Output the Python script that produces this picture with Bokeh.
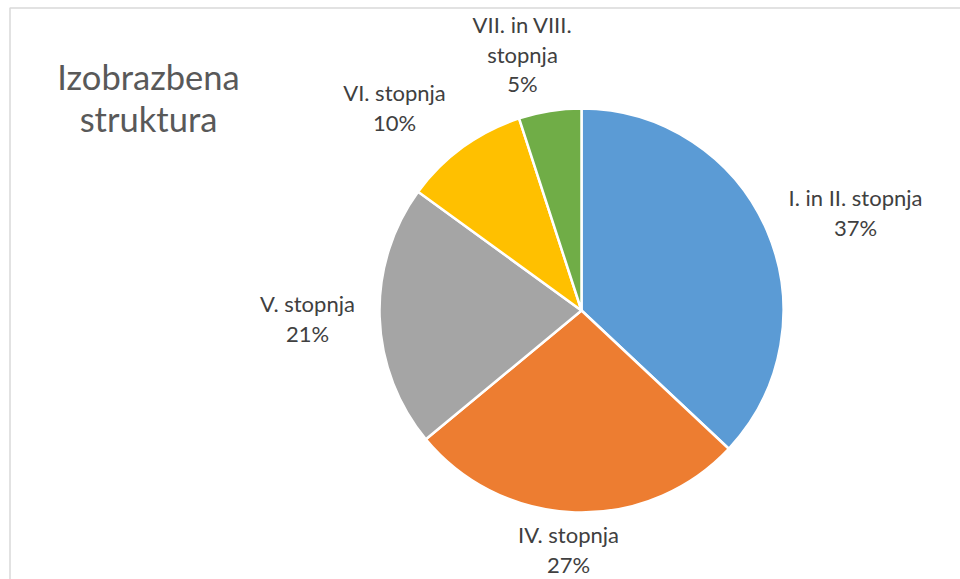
import math
from bokeh.plotting import figure
from bokeh.models import ColumnDataSource, Range1d
from bokeh.core.properties import value
from bokeh.embed import file_html
from bokeh.resources import INLINE

# ---- data ----
categories = ["I. in II. stopnja", "IV. stopnja", "V. stopnja", "VI. stopnja", "VII. in VIII. stopnja"]
shares = [37, 27, 21, 10, 5]
label_lines = [["I. in II. stopnja"], ["IV. stopnja"], ["V. stopnja"], ["VI. stopnja"], ["VII. in VIII.", "stopnja"]]
colors = ["#5B9BD5", "#ED7D31", "#A5A5A5", "#FFC000", "#70AD47"]
title_lines = ["Izobrazbena", "struktura"]

# ---- layout (picture pixel coordinates) ----
W, H = 960, 579
def dx(px):
    return px
def dy(py):
    return H - py

TXT_SHIFT = 11  # compensation so that glyph baselines land where wanted
cx, cy, R = dx(581), dy(310), 202
label_anchor = [(855, 208), (568, 545), (307, 314), (394, 103), (522, 35)]  # first baseline
line_gap = 29.5
title_baselines = [89, 131]

p = figure(width=W, height=H, output_backend="svg", toolbar_location=None,
           x_range=Range1d(0, W), y_range=Range1d(0, H), min_border=0,
           background_fill_color="white", border_fill_color="white")
p.axis.visible = False
p.xgrid.visible = False
p.ygrid.visible = False
p.outline_line_color = None

# chart-area border (left and top edges; the rest lies outside the picture)
p.line(x=[dx(9.5), dx(9.5), dx(W + 5)], y=[dy(H + 5), dy(7.5), dy(7.5)],
       line_color="#d9d9d9", line_width=1.5)

total = sum(shares)
starts, ends = [], []
cum = 0.0
for s in shares:
    c0 = cum / total
    cum += s
    c1 = cum / total
    starts.append(math.pi / 2 - 2 * math.pi * c1)
    ends.append(math.pi / 2 - 2 * math.pi * c0)

src = ColumnDataSource(dict(x=[cx] * len(shares), y=[cy] * len(shares), start=starts, end=ends,
                            color=colors, cat=categories))
p.wedge(x="x", y="y", radius=R, start_angle="start", end_angle="end", direction="anticlock",
        fill_color="color", line_color="white", line_width=2.5, source=src)

# data labels
tx, ty, tt = [], [], []
for i, lines in enumerate(label_lines):
    ax, ay = label_anchor[i]
    all_lines = lines + ["%d%%" % shares[i]]
    for j, ln in enumerate(all_lines):
        tx.append(dx(ax))
        ty.append(dy(ay + j * line_gap - TXT_SHIFT))
        tt.append(ln)
p.text(x=tx, y=ty, text=tt, text_align="center", text_baseline="alphabetic",
       text_font=value("Lato"), text_font_size="22px", text_color="#404040")

# title
p.text(x=[dx(148), dx(148)], y=[dy(b - TXT_SHIFT - 2) for b in title_baselines], text=title_lines,
       text_align="center", text_baseline="alphabetic", text_font=value("Lato"),
       text_font_size="34.5px", text_color="#595959")

open("out.html", "w").write(file_html(p, INLINE))
